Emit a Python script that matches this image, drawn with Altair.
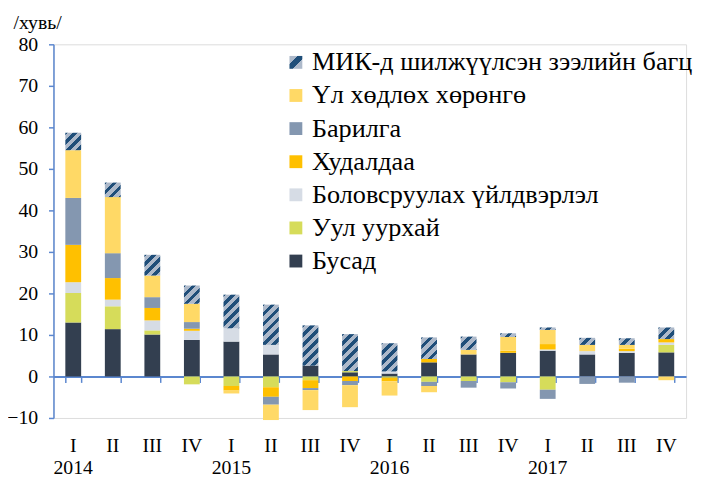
import json
import numpy as np
import pandas as pd
import altair as alt

# ---------------- data ----------------
quarters = ["2014-I", "2014-II", "2014-III", "2014-IV",
            "2015-I", "2015-II", "2015-III", "2015-IV",
            "2016-I", "2016-II", "2016-III", "2016-IV",
            "2017-I", "2017-II", "2017-III", "2017-IV"]

busad = [13.0, 11.4, 10.1, 8.8, 8.4, 5.3, 2.6, 1.0, 0.7, 3.4, 5.3, 5.7, 6.2, 5.3, 5.7, 5.8]
uul = [7.1, 5.5, 1.0, -1.9, -2.3, -2.6, -0.9, 0.3, -0.3, -1.3, -1.1, -1.4, -3.2, 0.0, 0.0, 1.8]
bolov = [2.6, 1.6, 2.4, 2.2, 3.2, 2.3, 0.0, 0.0, 0.5, 0.0, 0.0, 0.0, 0.3, 0.8, 0.4, 0.6]
hudaldaa = [9.0, 5.2, 3.0, 0.5, -1.1, -2.3, -1.9, -1.1, -0.9, 0.8, 0.0, 0.5, 1.3, 0.0, 0.6, 0.8]
barilga = [11.3, 6.0, 2.6, 1.6, 0.0, -1.9, -0.5, -1.0, 0.0, -1.0, -1.6, -1.5, -2.2, -1.8, -1.5, 0.0]
ul_hodloh = [11.5, 13.5, 5.2, 4.4, -0.7, -3.7, -4.8, -5.3, -3.4, -1.5, 1.1, 3.3, 3.4, 1.5, 0.9, -0.9]
mik = [4.2, 3.5, 5.0, 4.4, 8.1, 9.7, 9.7, 8.9, 6.8, 5.2, 3.2, 0.9, 0.6, 1.7, 1.6, 2.8]

N_MIK = "МИК-д шилжүүлсэн зээлийн багц"
N_UL = "Үл хөдлөх хөрөнгө"
N_BAR = "Барилга"
N_HUD = "Худалдаа"
N_BOL = "Боловсруулах үйлдвэрлэл"
N_UUL = "Уул уурхай"
N_BUS = "Бусад"

legend_order = [N_MIK, N_UL, N_BAR, N_HUD, N_BOL, N_UUL, N_BUS]
stack_order = [(N_BUS, busad), (N_UUL, uul), (N_BOL, bolov), (N_HUD, hudaldaa),
               (N_BAR, barilga), (N_UL, ul_hodloh), (N_MIK, mik)]

C_BUS = "#333F50"
C_UUL = "#D6DC5A"
C_BOL = "#D6DCE5"
C_HUD = "#FFC000"
C_BAR = "#8497B0"
C_UL = "#FFD966"
C_MIK_LIGHT = "#ADB9CA"
C_MIK_DARK = "#1F4E79"
AXIS_C = "#5B87CF"
FONT = "Liberation Serif"

# ---------------- layout ----------------
W, H = 640, 378
YMIN, YMAX = -10, 80
PX = H / (YMAX - YMIN)
BAR_W = 16
zero_px = H * YMAX / (YMAX - YMIN)

rows = []
for qi, q in enumerate(quarters):
    pos, neg = 0.0, 0.0
    for name, vals in stack_order:
        v = vals[qi]
        if v == 0:
            continue
        if v > 0:
            y0, y1 = pos, pos + v
            pos = y1
        else:
            y0, y1 = neg, neg + v
            neg = y1
        rows.append(dict(q=q, series=name, y0=y0, y1=y1, v=v))
df = pd.DataFrame(rows)


def stripe_gradient(w, h, period=7.0, dark_frac=0.45, phase=0.0):
    L = (w + h) / np.sqrt(2)
    d = w * w + h * h
    x2 = w * (w + h) / d
    y2 = h * (w + h) / d
    stops = []
    k = -1
    while True:
        base = k * period + phase
        segs = [(base, base + (1 - dark_frac) * period, C_MIK_LIGHT),
                (base + (1 - dark_frac) * period, base + period, C_MIK_DARK)]
        for s, e, c in segs:
            s2, e2 = max(s, 0.0), min(e, L)
            if e2 > s2:
                stops.append({"offset": round(s2 / L, 4), "color": c})
                stops.append({"offset": round(e2 / L, 4), "color": c})
        if base + period >= L:
            break
        k += 1
    return {"gradient": "linear", "x1": 0, "y1": 0,
            "x2": round(x2, 4), "y2": round(y2, 4), "stops": stops}


legend_grad = stripe_gradient(13, 13, period=18.0, dark_frac=0.3, phase=-6.5)
legend_grad_expr = alt.ExprRef(expr=json.dumps(legend_grad))

x_scale = alt.Scale(domain=quarters, paddingInner=0.6, paddingOuter=0.3)
y_scale = alt.Scale(domain=[YMIN, YMAX], nice=False, zero=False)

label_expr = ("split(datum.value, '-')[1] == 'I' ? "
              "[split(datum.value, '-')[1], split(datum.value, '-')[0]] : "
              "split(datum.value, '-')[1]")

main = alt.Chart(df[df.series != N_MIK]).mark_bar().encode(
    x=alt.X("q:N", sort=quarters, scale=x_scale, title=None,
            axis=alt.Axis(domain=False, ticks=False, labelExpr=label_expr,
                          labelFont=FONT, labelFontSize=20, labelColor="black",
                          labelPadding=18, labelLineHeight=22, labelAngle=0,
                          labelBaseline="top")),
    y=alt.Y("y0:Q", scale=y_scale,
            axis=alt.Axis(values=list(range(YMIN, YMAX + 1, 10)), grid=False,
                          domainColor=AXIS_C, domainWidth=1.5,
                          tickColor=AXIS_C, tickSize=5, tickWidth=1.5,
                          labelFont=FONT, labelFontSize=20, labelColor="black",
                          labelPadding=11, title="/хувь/", titleAngle=0,
                          titleAlign="left", titleBaseline="alphabetic",
                          titleX=-41, titleY=-16, titleFont=FONT,
                          titleFontSize=20, titleFontWeight="normal",
                          titleColor="black")),
    y2="y1:Q",
    color=alt.Color("series:N",
                    scale=alt.Scale(domain=legend_order,
                                    range=[legend_grad_expr, C_UL, C_BAR, C_HUD,
                                           C_BOL, C_UUL, C_BUS]),
                    legend=alt.Legend(title=None, orient="none", legendX=232,
                                      legendY=5, symbolType="square",
                                      symbolSize=169, symbolStrokeWidth=0,
                                      labelFont=FONT, labelFontSize=26.5,
                                      labelColor="black", labelOffset=3,
                                      rowPadding=6.5, labelLimit=600)),
)

layers = [main]
df_mik = df[df.series == N_MIK]
for _, r in df_mik.iterrows():
    h = abs(r.y1 - r.y0) * PX
    grad = stripe_gradient(BAR_W, h, period=7.2, dark_frac=0.45, phase=1.5)
    layers.append(
        alt.Chart(df_mik).transform_filter(alt.datum.q == r.q).mark_bar(fill=grad).encode(
            x=alt.X("q:N", sort=quarters, scale=x_scale, axis=None),
            y=alt.Y("y0:Q", scale=y_scale),
            y2="y1:Q",
        )
    )

zero_axis = alt.Chart(df).mark_point(opacity=0).encode(
    x=alt.X("q:N", sort=quarters, scale=x_scale, title=None,
            axis=alt.Axis(offset=-(H - zero_px), domain=True, domainColor=AXIS_C,
                          domainWidth=2, ticks=True, tickColor=AXIS_C,
                          tickWidth=1.5, tickSize=6, tickBand="extent",
                          labels=False, orient="bottom")),
)
layers.append(zero_axis)

chart = alt.layer(*layers).resolve_axis(x="independent").properties(
    width=W, height=H,
    autosize=alt.AutoSizeParams(type="none"),
    padding={"left": 46, "top": 34, "right": 7, "bottom": 60},
).configure_view(stroke=None).configure_legend(padding=0, labelFont=FONT).configure(font=FONT)

chart.save("out.html", embed_options={"renderer": "svg", "actions": False})
